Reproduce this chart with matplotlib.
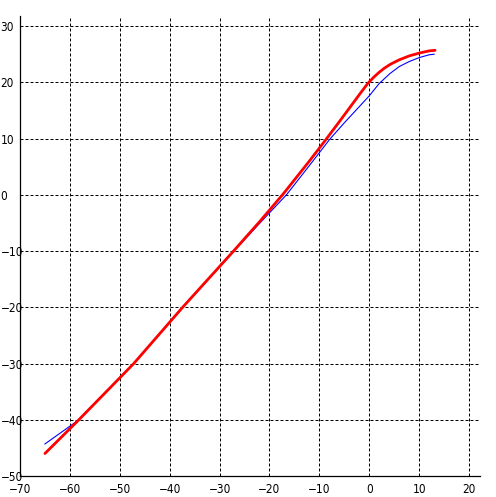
import matplotlib
matplotlib.use("Agg")
import matplotlib.pyplot as plt

red_x = [-65, -58.2, -47.2, -37.4, -27.2, -22.0, -17.2, -12.0, -8.8, -6.0, -4.0, -2.0, -0.3,
         1.0, 2.0, 3.0, 4.2, 6.0, 8.0, 10.0, 12.0, 13.2]
red_y = [-46, -40, -30, -20, -10, -4.8, 0.2, 6.0, 9.7, 13.0, 15.4, 17.8, 19.8,
         21.0, 21.8, 22.5, 23.2, 24.0, 24.7, 25.2, 25.6, 25.7]

blue_x = [-65, -58.5, -47.2, -37.4, -27.2, -22.0, -16.6, -12.0, -7.9, -5.0, -2.6, 0.0,
          2.0, 4.2, 6.0, 8.0, 10.0, 12.0, 13.0]
blue_y = [-44.3, -40.2, -30, -20, -10.1, -5.1, 0, 5.2, 9.9, 12.8, 15.1, 17.6,
          19.8, 21.6, 22.8, 23.7, 24.4, 24.9, 25.0]

xticks = [-70, -60, -50, -40, -30, -20, -10, 0, 10, 20]
yticks = [-50, -40, -30, -20, -10, 0, 10, 20, 30]

fig = plt.figure(figsize=(4.96, 4.97), dpi=100)
ax = fig.add_axes([20/496, 21/497, 460/496, 460/497])

ax.plot(blue_x, blue_y, color="#0000ff", lw=0.8, zorder=3)
ax.plot(red_x, red_y, color="#ff0000", lw=2.0, zorder=4,
        solid_joinstyle="round", solid_capstyle="round")

ax.set_xlim(-70, 22.2)
ax.set_ylim(-50, 31.8)
ax.set_xticks(xticks)
ax.set_yticks(yticks)
ax.grid(True, color="black", linestyle=(0, (3, 2)), linewidth=0.72)

for s in ["top", "right"]:
    ax.spines[s].set_visible(False)
for s in ["left", "bottom"]:
    ax.spines[s].set_linewidth(0.9)
    ax.spines[s].set_color("black")

ax.tick_params(axis="both", length=0, labelsize=8.5)
ax.tick_params(axis="x", pad=5)
ax.tick_params(axis="y", pad=14)
for lab in ax.get_yticklabels():
    lab.set_horizontalalignment("left")
    lab.set_fontstretch("condensed")
for lab in ax.get_xticklabels():
    lab.set_fontstretch("condensed")

fig.savefig("out.png", dpi=100)
